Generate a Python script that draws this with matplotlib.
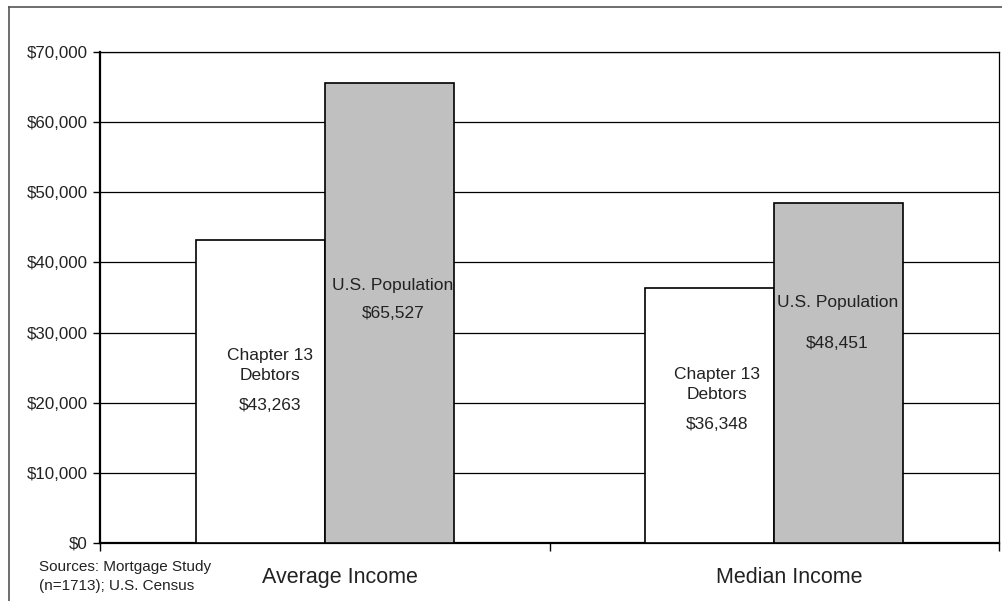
import matplotlib
matplotlib.use("Agg")
import matplotlib.pyplot as plt
from matplotlib.lines import Line2D
from matplotlib.ticker import FuncFormatter, MultipleLocator
import numpy as np

plt.rcParams['font.family'] = ['Liberation Sans Narrow', 'Liberation Sans', 'DejaVu Sans']

categories = ["Average Income", "Median Income"]
debtors = [43263, 36348]
population = [65527, 48451]
debtor_label = "Chapter 13\nDebtors"
population_label = "U.S. Population"
source_text = "Sources: Mortgage Study\n(n=1713); U.S. Census"

W, H = 1002, 601
fig = plt.figure(figsize=(W / 100, H / 100), dpi=100)
ax = fig.add_axes([100 / W, (H - 543) / H, (999 - 100) / W, (543 - 52) / H])

x = np.arange(len(categories))
bw = 129 / 450
ax.bar(x - bw / 2, debtors, bw, color="white", edgecolor="black", linewidth=1.2, zorder=3)
ax.bar(x + bw / 2, population, bw, color="#C0C0C0", edgecolor="black", linewidth=1.2, zorder=3)

ax.set_xlim(-0.5, len(categories) - 0.5)
ax.set_ylim(0, 70000)
ax.yaxis.set_major_locator(MultipleLocator(10000))
ax.yaxis.set_major_formatter(FuncFormatter(lambda v, p: f"${v:,.0f}"))
ax.grid(axis="y", color="black", linewidth=0.9, zorder=0)
ax.set_axisbelow(True)

ax.set_xticks(np.arange(len(categories) + 1) - 0.5)
ax.set_xticklabels([])
ax.tick_params(axis="x", direction="out", length=6, width=1, color="black")
ax.tick_params(axis="y", direction="out", length=5, width=1, labelsize=12.2, pad=4, labelcolor="#222222")

for s in ["left", "bottom"]:
    ax.spines[s].set_linewidth(1.6)
for s in ["top", "right"]:
    ax.spines[s].set_linewidth(0.9)

# in-bar labels (layout: y positions in data units, x offsets in pixels)
px = 1 / 450
fs = 12.5
tc = "#222222"
# Average: debtors
ax.text(x[0] - bw / 2 + 9.5 * px, 25250, debtor_label, ha="center", va="center", fontsize=fs, linespacing=1.4, color=tc, zorder=5)
ax.text(x[0] - bw / 2 + 9.5 * px, 19674, f"${debtors[0]:,}", ha="center", va="center", fontsize=fs, color=tc, zorder=5)
ax.text(x[0] + bw / 2 + 3.5 * px, 36782, population_label, ha="center", va="center", fontsize=fs, color=tc, zorder=5)
ax.text(x[0] + bw / 2 + 3.5 * px, 32790, f"${population[0]:,}", ha="center", va="center", fontsize=fs, color=tc, zorder=5)
# Median
ax.text(x[1] - bw / 2 + 7.5 * px, 22600, debtor_label, ha="center", va="center", fontsize=fs, linespacing=1.4, color=tc, zorder=5)
ax.text(x[1] - bw / 2 + 7.5 * px, 16965, f"${debtors[1]:,}", ha="center", va="center", fontsize=fs, color=tc, zorder=5)
ax.text(x[1] + bw / 2 - 1.5 * px, 34216, population_label, ha="center", va="center", fontsize=fs, color=tc, zorder=5)
ax.text(x[1] + bw / 2 - 1.5 * px, 28371, f"${population[1]:,}", ha="center", va="center", fontsize=fs, color=tc, zorder=5)

# category labels
for i, c in enumerate(categories):
    ax.text(x[i] + 15 * px, -0.07, c, transform=ax.get_xaxis_transform(), ha="center", va="center", fontsize=15.5, color=tc)

fig.text(39 / W, 1 - 576.5 / H, source_text, ha="left", va="center", fontsize=11, linespacing=1.45, color=tc)

# outer frame (top and left visible)
fig.add_artist(Line2D([9 / W, 1.0], [1 - 7 / H, 1 - 7 / H], transform=fig.transFigure, color="#555555", linewidth=1.2))
fig.add_artist(Line2D([9 / W, 9 / W], [1 - 7 / H, 0.0], transform=fig.transFigure, color="#555555", linewidth=1.2))

fig.savefig("out.png", dpi=100)
